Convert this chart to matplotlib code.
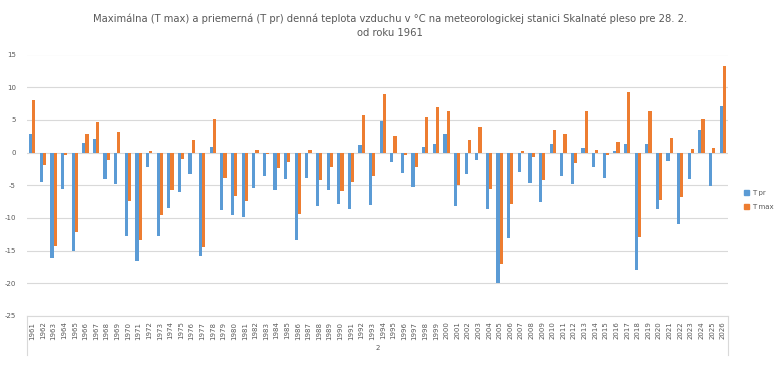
import matplotlib
matplotlib.use("Agg")
import matplotlib.pyplot as plt
import numpy as np
from matplotlib.lines import Line2D
from matplotlib.patches import Patch

years = list(range(1961, 2027))
t_pr = [2.9, -4.5, -16.2, -5.6, -15.0, 1.4, 2.0, -4.1, -4.8, -12.7,
        -16.6, -2.2, -12.8, -8.5, -6.0, -3.3, -15.8, 0.8, -8.8, -9.5,
        -9.8, -5.4, -3.6, -5.7, -4.1, -13.4, -3.9, -8.2, -5.7, -7.9,
        -8.6, 1.1, -8.0, 4.8, -1.5, -3.1, -5.3, 0.8, 1.3, 2.9,
        -8.2, -3.3, -1.2, -8.6, -19.9, -13.0, -3.0, -4.7, -7.6, 1.3,
        -3.6, -4.8, 0.7, -2.2, -3.9, 0.2, 1.3, -17.9, 1.3, -8.6,
        -1.3, -10.9, -4.1, 3.4, -5.1, 7.1]
t_max = [8.0, -1.9, -14.3, -0.3, -12.2, 2.9, 4.6, -1.1, 3.2, -7.4,
         -13.4, 0.2, -9.5, -5.7, -1.0, 1.9, -14.4, 5.2, -3.9, -6.6,
         -7.4, 0.4, -0.2, -2.4, -1.5, -9.4, 0.4, -4.2, -2.2, -5.9,
         -4.5, 5.7, -3.6, 9.0, 2.6, -0.4, -2.2, 5.4, 6.9, 6.4,
         -5.0, 1.9, 3.9, -5.6, -17.0, -7.9, 0.2, -0.7, -4.2, 3.4,
         2.9, -1.6, 6.4, 0.4, -0.4, 1.6, 9.2, -12.9, 6.4, -7.3,
         2.3, -6.8, 0.5, 5.1, 0.7, 13.3]
yticks = [-25, -20, -15, -10, -5, 0, 5, 10, 15]
title = ("Maximálna (T max) a priemerná (T pr) denná teplota vzduchu v °C na meteorologickej stanici Skalnaté pleso pre 28. 2.\n"
         "od roku 1961")
group_label = "2"

c_pr = "#5B9BD5"
c_max = "#ED7D31"
txt = "#595959"

fig = plt.figure(figsize=(7.78, 3.8), dpi=100)
ax = fig.add_axes([27/778, 1 - 316/380, (728-27)/778, (316-54.5)/380])

x = np.arange(len(years))
w = 0.3
ax.bar(x - w/2, t_pr, width=w, color=c_pr, zorder=3, label="T pr")
ax.bar(x + w/2, t_max, width=w, color=c_max, zorder=3, label="T max")

ax.set_xlim(-0.5, len(years) - 0.5)
ax.set_ylim(-25, 15)
ax.set_yticks(yticks)
ax.set_yticklabels([str(v) for v in yticks], fontsize=5, color=txt)
ax.tick_params(axis="y", length=0, pad=8)
ax.yaxis.grid(True, color="#d9d9d9", linewidth=0.8, zorder=0)
ax.set_xticks(x)
ax.set_xticklabels([str(y) for y in years], rotation=90, fontsize=5, color=txt)
ax.tick_params(axis="x", length=0, pad=4)
for s in ["top", "right", "left"]:
    ax.spines[s].set_visible(False)
ax.spines["bottom"].set_color("#d9d9d9")
ax.spines["bottom"].set_linewidth(0.8)
ax.spines["bottom"].set_zorder(4)

# multi-level category axis frame
for xf in (27/778, 728/778):
    fig.add_artist(Line2D([xf, xf], [1 - 316/380, 1 - 355/380], color="#d9d9d9", linewidth=0.8))
fig.text((27 + 728) / 2 / 778, 1 - 348/380, group_label, fontsize=5, color=txt, ha="center", va="center")

fig.text(390/778, 1 - 26/380, title, ha="center", va="center", fontsize=7.2, color=txt,
         linespacing=1.5)

handles = [Patch(color=c_pr, label="T pr"), Patch(color=c_max, label="T max")]
fig.legend(handles=handles, loc="center left", bbox_to_anchor=(738/778, 1 - 200/380),
           frameon=False, fontsize=5, handlelength=0.7, handleheight=0.7,
           handletextpad=0.4, labelspacing=1.2, labelcolor=txt)

fig.savefig("out.png", dpi=100, facecolor="white")
